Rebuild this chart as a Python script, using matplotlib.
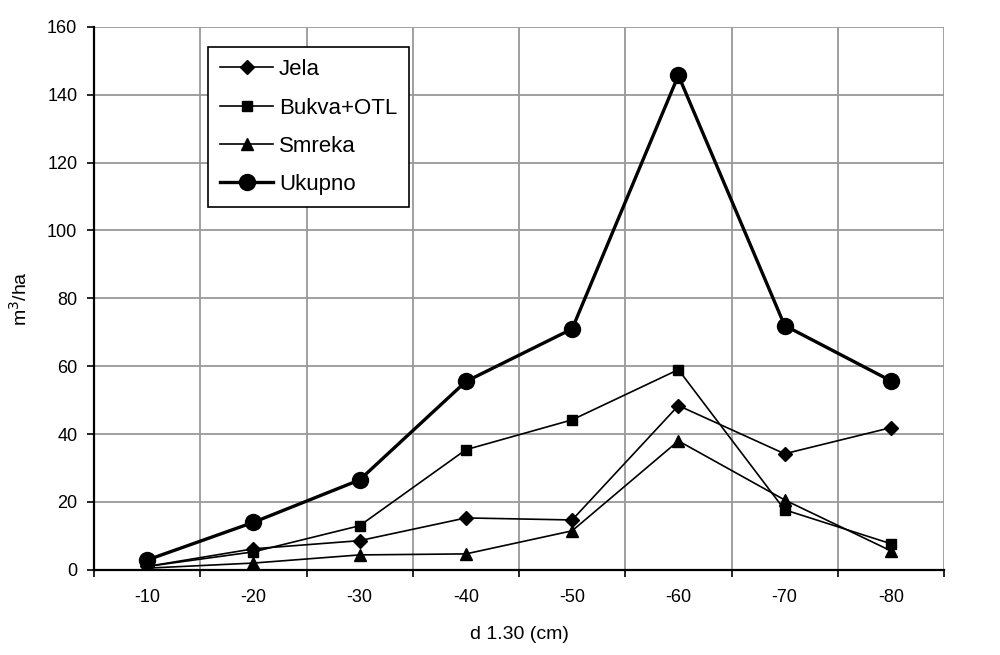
import numpy as np
import matplotlib.pyplot as plt

plt.rcParams['font.family'] = ['Liberation Sans', 'DejaVu Sans']

## data ################################

categories = ['-10', '-20', '-30', '-40', '-50', '-60', '-70', '-80']
jela = [1.0, 6.2, 8.6, 15.3, 14.7, 48.4, 34.2, 41.9]
bukva = [1.0, 5.3, 13.0, 35.4, 44.2, 59.0, 17.7, 7.7]
smreka = [0.5, 2.0, 4.4, 4.7, 11.5, 38.0, 20.6, 5.6]
ukupno = [2.9, 14.0, 26.5, 55.5, 71.0, 145.7, 72.0, 55.7]

## plot ################################

fig = plt.figure(figsize=(10, 6.55), dpi=100)
ax = fig.add_axes([0.094, 0.13, 0.85, 0.829])

x = np.arange(len(categories))

ax.plot(x, jela, color='black', lw=1.2, marker='D', ms=7, label='Jela')
ax.plot(x, bukva, color='black', lw=1.2, marker='s', ms=7.5, label='Bukva+OTL')
ax.plot(x, smreka, color='black', lw=1.2, marker='^', ms=9, label='Smreka')
ax.plot(x, ukupno, color='black', lw=2.4, marker='o', ms=11.5, label='Ukupno')

ax.set_xlim(-0.5, len(categories) - 0.5)
ax.set_ylim(0, 160)
ax.set_yticks(np.arange(0, 161, 20))

# category labels in the middle, ticks and grid on the boundaries
ax.set_xticks(x)
ax.set_xticklabels(categories)
ax.tick_params(axis='x', which='major', length=0, pad=14, labelsize=13)
ax.set_xticks(np.arange(-0.5, len(categories)), minor=True)
ax.tick_params(axis='x', which='minor', length=5, width=1.2, direction='out')
ax.tick_params(axis='y', length=5, width=1.2, labelsize=13, pad=7)

ax.grid(axis='y', which='major', color='#999999', lw=1.3)
ax.grid(axis='x', which='minor', color='#999999', lw=1.3)
ax.set_axisbelow(True)

for s in ['top', 'right']:
    ax.spines[s].set_visible(False)
for s in ['left', 'bottom']:
    ax.spines[s].set_linewidth(1.6)

ax.set_xlabel('d 1.30 (cm)', fontsize=14, labelpad=14)
ax.set_ylabel('m$^3$/ha', fontsize=14, labelpad=12)

leg = ax.legend(loc='upper left', bbox_to_anchor=(0.134, 0.963), borderaxespad=0,
                fontsize=16, fancybox=False, framealpha=1, edgecolor='black',
                handlelength=2.4, handletextpad=0.25, labelspacing=0.78,
                borderpad=0.55)
leg.get_frame().set_linewidth(1.2)

plt.savefig('out.png', dpi=100)
